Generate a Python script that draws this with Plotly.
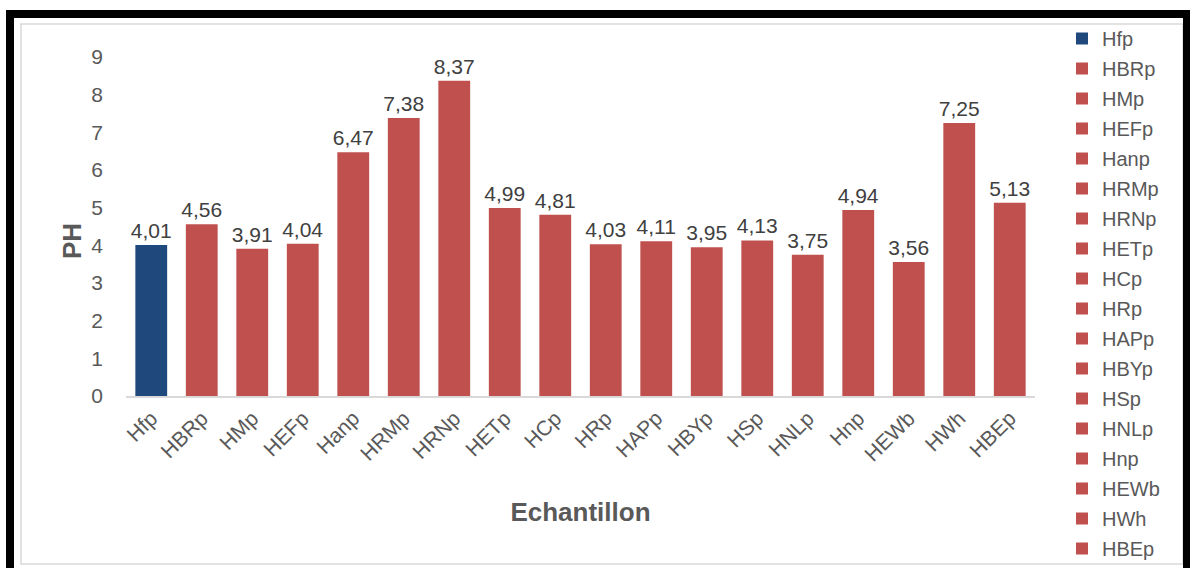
import plotly.graph_objects as go

categories = ["Hfp", "HBRp", "HMp", "HEFp", "Hanp", "HRMp", "HRNp", "HETp", "HCp", "HRp",
              "HAPp", "HBYp", "HSp", "HNLp", "Hnp", "HEWb", "HWh", "HBEp"]
ph_values = [4.01, 4.56, 3.91, 4.04, 6.47, 7.38, 8.37, 4.99, 4.81, 4.03,
             4.11, 3.95, 4.13, 3.75, 4.94, 3.56, 7.25, 5.13]
colors = ["#1F497D"] + ["#C0504D"] * 17
y_ticks = list(range(0, 10))

SANS = "Liberation Sans, Arial, sans-serif"
W, H = 1190, 568
L, R, T, B = 126, 155, 57, 172
pw, ph = W - L - R, H - T - B

def px(x):
    return (x - L) / pw

def py(y):
    return (H - B - y) / ph

fig = go.Figure()
for i, (c, v) in enumerate(zip(categories, ph_values)):
    fig.add_trace(go.Bar(
        x=[c], y=[v], name=c, legendgroup=c,
        marker=dict(color=colors[i], line=dict(width=0)),
        text=[f"{v:.2f}".replace(".", ",")], textposition="outside",
        constraintext="none",
        textfont=dict(family=SANS, size=21, color="#404040"),
        cliponaxis=False, width=0.63,
    ))

fig.update_layout(
    width=W, height=H,
    margin=dict(l=L, r=R, t=T, b=B),
    paper_bgcolor="white", plot_bgcolor="white",
    barmode="relative",
    font=dict(family=SANS, color="#595959"),
    showlegend=True,
    legend=dict(x=px(1062), y=py(34), xanchor="left", yanchor="top",
                font=dict(family=SANS, size=20, color="#595959"),
                tracegroupgap=1, itemwidth=30, bgcolor="rgba(0,0,0,0)",
                maxheight=1.0),
    xaxis=dict(categoryorder="array", categoryarray=categories,
               tickangle=-45, tickfont=dict(family=SANS, size=21, color="#595959"),
               showline=True, linecolor="#D9D9D9", linewidth=1.5, ticks="",
               automargin=False,
               title=dict(text="<b>Echantillon</b>", font=dict(family=SANS, size=26, color="#595959"),
                          standoff=38)),
    yaxis=dict(range=[0, 9], tickvals=y_ticks, showgrid=False, zeroline=False,
               tickfont=dict(family=SANS, size=21, color="#595959"), ticks="",
               ticklabelstandoff=22, automargin=False),
    annotations=[
        dict(text="<b>PH</b>", xref="paper", yref="paper", x=px(72), y=py(241),
             xanchor="center", yanchor="middle", textangle=-90, showarrow=False,
             font=dict(family=SANS, size=26, color="#595959")),
    ],
    shapes=[
        dict(type="rect", xref="paper", yref="paper",
             x0=px(21), x1=px(1183), y0=py(564), y1=py(24),
             line=dict(color="#D9D9D9", width=1.5), fillcolor="rgba(0,0,0,0)", layer="below"),
        dict(type="rect", xref="paper", yref="paper",
             x0=px(10), x1=px(1187), y0=py(575), y1=py(14),
             line=dict(color="black", width=8), fillcolor="rgba(0,0,0,0)"),
    ],
)

fig.write_html("out.html", config={"displayModeBar": False},
               post_script="document.body.style.margin='0';document.body.style.overflow='hidden';")
